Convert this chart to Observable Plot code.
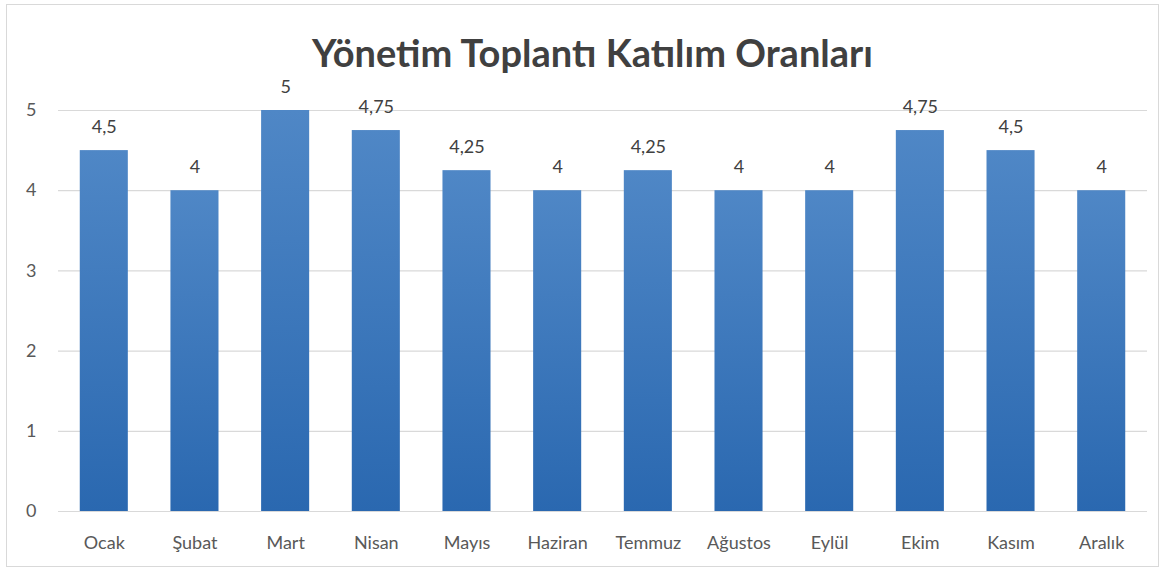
<!DOCTYPE html>
<html>
<head>
<meta charset="utf-8">
<script src="https://cdn.jsdelivr.net/npm/d3@7"></script>
<script src="https://cdn.jsdelivr.net/npm/@observablehq/plot@0.6"></script>
<style>
  html, body { margin: 0; padding: 0; background: #fff; }
  #frame { position: absolute; left: 6px; top: 4px; width: 1153px; height: 563px; border: 1px solid #d9d9d9; box-sizing: border-box; }
  #title { position: absolute; left: 0; top: 28px; width: 1185px; text-align: center; font-family: Lato, "Open Sans", sans-serif; font-weight: bold; font-size: 38px; color: #404040; line-height: 48px; }
  #chart { position: absolute; left: 0; top: 70px; }
</style>
</head>
<body>
<div id="frame"></div>
<div id="title">Yönetim Toplantı Katılım Oranları</div>
<div id="chart"></div>
<script>
const months = ["Ocak", "Şubat", "Mart", "Nisan", "Mayıs", "Haziran", "Temmuz", "Ağustos", "Eylül", "Ekim", "Kasım", "Aralık"];
const values = [4.5, 4, 5, 4.75, 4.25, 4, 4.25, 4, 4, 4.75, 4.5, 4];
const yTicks = [0, 1, 2, 3, 4, 5];

const data = months.map((m, i) => ({month: m, value: values[i]}));
const fmt = v => String(v).replace(".", ",");

const plot = Plot.plot({
  width: 1163,
  height: 491,
  marginTop: 40,
  marginBottom: 50,
  marginLeft: 58,
  marginRight: 16,
  style: {fontFamily: "Lato, 'Open Sans', sans-serif", fontSize: "18px", color: "#595959", background: "transparent"},
  x: {domain: months, paddingInner: 0.47, paddingOuter: 0.24, round: false, label: null, tickSize: 0, tickPadding: 25},
  y: {domain: [0, 5], ticks: yTicks, label: null, tickSize: 0, tickPadding: 22, tickFormat: d => String(d)},
  marks: [
    Plot.ruleY(yTicks, {stroke: "#d9d9d9", strokeWidth: 1.2}),
    Plot.barY(data, {x: "month", y: "value", fill: "url(#barGrad)"}),
    Plot.text(data, {x: "month", y: "value", text: d => fmt(d.value), dy: -23, fill: "#404040", fontSize: 18})
  ]
});

const defs = d3.select(plot).insert("defs", ":first-child");
const g = defs.append("linearGradient").attr("id", "barGrad").attr("x1", "0").attr("y1", "0").attr("x2", "0").attr("y2", "1");
g.append("stop").attr("offset", "0%").attr("stop-color", "#4f87c6");
g.append("stop").attr("offset", "100%").attr("stop-color", "#2a68b0");

document.getElementById("chart").appendChild(plot);
</script>
</body>
</html>
